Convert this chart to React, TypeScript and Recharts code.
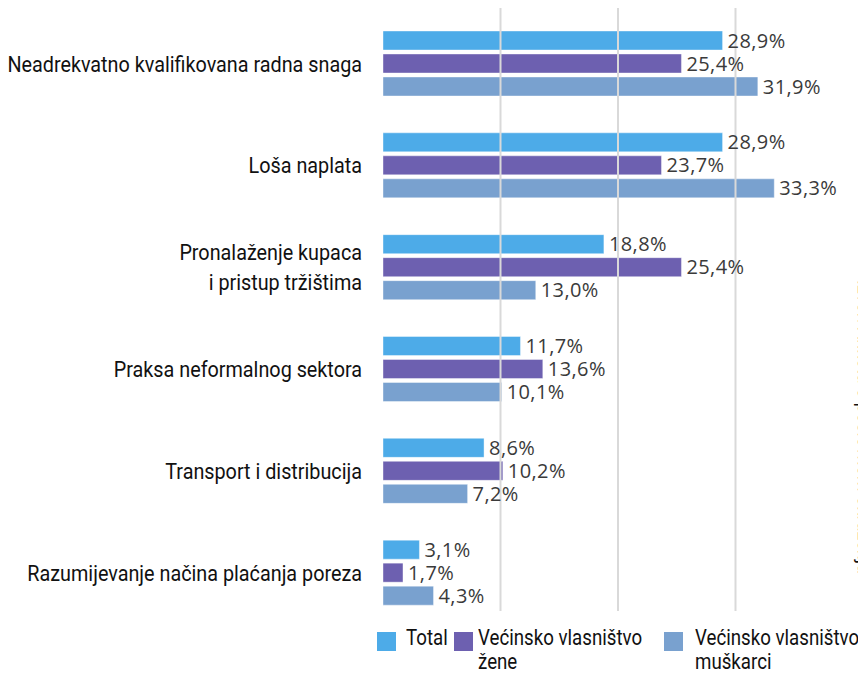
import React from "react";
import {
  BarChart,
  Bar,
  XAxis,
  YAxis,
  LabelList,
  ReferenceLine,
} from "recharts";

const categories = [
  "Neadrekvatno kvalifikovana radna snaga",
  "Loša naplata",
  "Pronalaženje kupaca\ni pristup tržištima",
  "Praksa neformalnog sektora",
  "Transport i distribucija",
  "Razumijevanje načina plaćanja poreza",
];
const total = [28.9, 28.9, 18.8, 11.7, 8.6, 3.1];
const women = [25.4, 23.7, 25.4, 13.6, 10.2, 1.7];
const men = [31.9, 33.3, 13.0, 10.1, 7.2, 4.3];
const gridValues = [10, 20, 30];
const seriesNames = ["Total", "Većinsko vlasništvo\nžene", "Većinsko vlasništvo\nmuškarci"];
const sourceText = "Izvor: Anketa o poslovnom okruženju";

const colors = ["#4DABE8", "#6D60B0", "#79A1CF"];

const data = categories.map((c, i) => ({
  category: c,
  total: total[i],
  women: women[i],
  men: men[i],
}));

const labelFont = "Roboto, 'DejaVu Sans', sans-serif";
const valueFont = "'Open Sans', Lato, sans-serif";
const squeeze = 0.9;
const legendSqueeze = 0.85;

const fmt = (v: any) => Number(v).toFixed(1).replace(".", ",") + "%";

const CategoryTick = (props: any) => {
  const { x, y, payload } = props;
  const lines = String(payload.value).split("\n");
  const lh = 30;
  const start = -((lines.length - 1) * lh) / 2;
  return (
    <g transform={`translate(${x},${y}) scale(${squeeze},1)`}>
      <text
        x={0}
        y={0}
        textAnchor="end"
        fontFamily={labelFont}
        fontSize={22}
        fill="#111"
      >
        {lines.map((l, i) => (
          <tspan key={i} x={0} y={start + i * lh} dy="0.35em">
            {l}
          </tspan>
        ))}
      </text>
    </g>
  );
};

const GridShape = (props: any) => {
  const { x1, x2, y1, y2 } = props;
  return (
    <line
      x1={x1}
      x2={x2}
      y1={y1 - 13}
      y2={y2 - 19}
      stroke="#d9d9d9"
      strokeWidth={2}
    />
  );
};

const legendPos = [
  { sq: 377, tx: 406 },
  { sq: 454, tx: 478 },
  { sq: 664, tx: 695 },
];

const LegendBlock = () => (
  <div style={{ position: "absolute", left: 0, top: 620, width: 866, height: 58 }}>
    {seriesNames.map((n, i) => (
      <div key={i}>
        <div
          style={{
            position: "absolute",
            left: legendPos[i].sq,
            top: 12,
            width: 19,
            height: 19,
            background: colors[i],
          }}
        />
        <div
          style={{
            position: "absolute",
            left: legendPos[i].tx,
            top: 6,
            fontFamily: labelFont,
            fontSize: 22,
            lineHeight: "24px",
            color: "#111",
            whiteSpace: "pre",
            transform: `scaleX(${legendSqueeze})`,
            transformOrigin: "0 0",
          }}
        >
          {n}
        </div>
      </div>
    ))}
  </div>
);

const labelProps = {
  position: "right" as const,
  offset: 5,
  formatter: fmt,
  fontFamily: valueFont,
  fontSize: 20,
  letterSpacing: 0.4,
  fill: "#3a3a3a",
};

export default function App() {
  return (
    <div
      style={{
        position: "relative",
        width: 866,
        height: 678,
        overflow: "hidden",
        background: "#fff",
        margin: -8,
      }}
    >
      <BarChart
        width={866}
        height={678}
        data={data}
        layout="vertical"
        margin={{ top: 13, right: 13, bottom: 54, left: 0 }}
        barSize={19}
        barGap={4}
      >
        {gridValues.map((g) => (
          <ReferenceLine key={g} x={g} shape={<GridShape />} ifOverflow="visible" />
        ))}
        <XAxis type="number" domain={[0, 40]} hide />
        <YAxis
          type="category"
          dataKey="category"
          width={383}
          axisLine={false}
          tickLine={false}
          tickSize={0}
          tickMargin={21}
          tick={<CategoryTick />}
          interval={0}
        />
        <Bar dataKey="total" fill={colors[0]} stroke="#ffffff" strokeOpacity={0.4} isAnimationActive={false}>
          <LabelList dataKey="total" {...labelProps} />
        </Bar>
        <Bar dataKey="women" fill={colors[1]} stroke="#ffffff" strokeOpacity={0.4} isAnimationActive={false}>
          <LabelList dataKey="women" {...labelProps} />
        </Bar>
        <Bar dataKey="men" fill={colors[2]} stroke="#ffffff" strokeOpacity={0.4} isAnimationActive={false}>
          <LabelList dataKey="men" {...labelProps} />
        </Bar>
      </BarChart>
      <LegendBlock />
      <div
        style={{
          position: "absolute",
          left: 855,
          top: 280,
          transformOrigin: "0 0",
          transform: "rotate(90deg) translateY(-20px)",
          fontFamily: labelFont,
          fontSize: 18,
          color: "#111",
          whiteSpace: "nowrap",
        }}
      >
        {sourceText}
      </div>
    </div>
  );
}
